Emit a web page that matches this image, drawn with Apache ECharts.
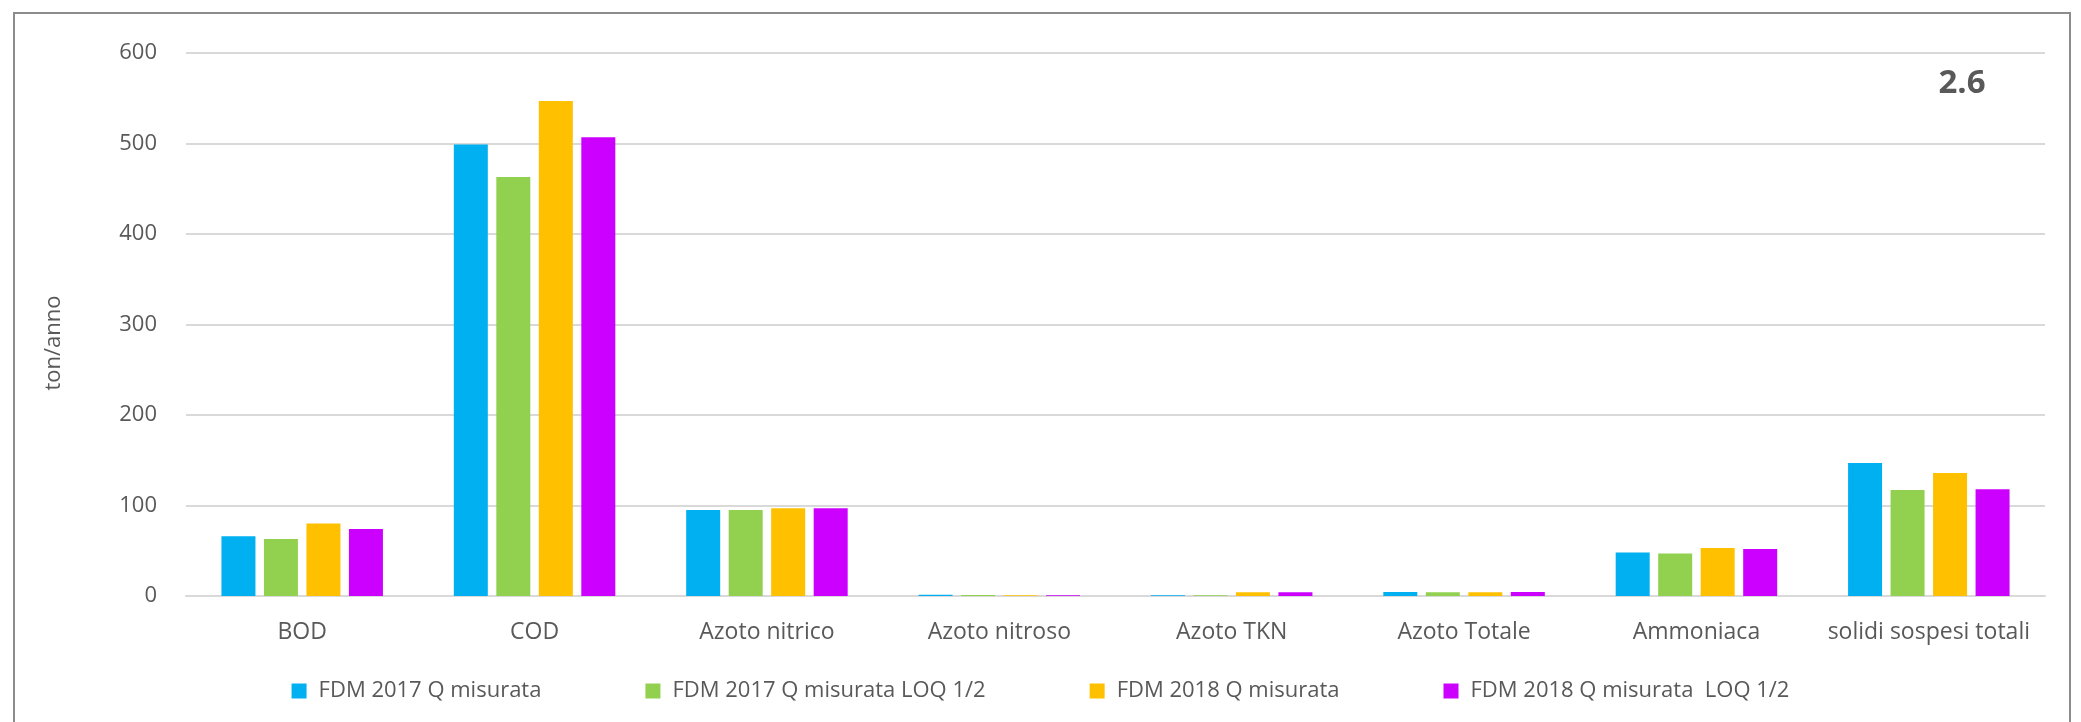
<!DOCTYPE html>
<html>
<head>
<meta charset="utf-8">
<script src="https://cdn.jsdelivr.net/npm/echarts@6/dist/echarts.min.js"></script>
<style>
  html, body { margin: 0; padding: 0; background: #fff; }
  #chart { width: 2081px; height: 722px; }
</style>
</head>
<body>
<div id="chart"></div>
<script>
// categorie
var categories = ['BOD', 'COD', 'Azoto nitrico', 'Azoto nitroso', 'Azoto TKN', 'Azoto Totale', 'Ammoniaca', 'solidi sospesi totali'];
var seriesNames = ['FDM 2017 Q misurata', 'FDM 2017 Q misurata LOQ 1/2', 'FDM 2018 Q misurata', 'FDM 2018 Q misurata  LOQ 1/2'];
var colors = ['#00B0F0', '#92D050', '#FFC000', '#CC00FF'];

// valori (ton/anno)
var fdm2017 = [66, 499, 95, 1.5, 0.7, 4.5, 48, 147];
var fdm2017Loq = [63, 463, 95, 1, 0.7, 4.2, 47, 117];
var fdm2018 = [80, 547, 97, 0.7, 4.2, 4.2, 53, 136];
var fdm2018Loq = [74, 507, 97, 0.7, 4.2, 4.5, 52, 118];
var yTicks = [0, 100, 200, 300, 400, 500, 600];

var textColor = '#595959';
var font = '"Open Sans", "Noto Sans", sans-serif';

var allData = [fdm2017, fdm2017Loq, fdm2018, fdm2018Loq];
var series = [];
for (var i = 0; i < seriesNames.length; i++) {
  series.push({
    name: seriesNames[i],
    type: 'bar',
    barWidth: 34,
    barGap: '25%',
    itemStyle: { color: colors[i] },
    data: allData[i]
  });
}

var chart = echarts.init(document.getElementById('chart'));
chart.setOption({
  animation: false,
  textStyle: { fontFamily: font },
  grid: { left: 186, right: 36, top: 53, bottom: 126, containLabel: false },
  legend: {
    data: seriesNames,
    left: 'center',
    top: 675,
    itemWidth: 15,
    itemHeight: 15,
    itemGap: 104,
    icon: 'rect',
    textStyle: { color: textColor, fontSize: 22, fontFamily: font, padding: [0, 0, 0, 7] }
  },
  xAxis: {
    type: 'category',
    data: categories,
    axisTick: { show: false },
    axisLine: { lineStyle: { color: '#D9D9D9', width: 2 } },
    axisLabel: { color: textColor, fontSize: 23, margin: 25, interval: 0 }
  },
  yAxis: {
    type: 'value',
    min: 0,
    max: yTicks[yTicks.length - 1],
    interval: 100,
    axisLine: { show: false },
    axisTick: { show: false },
    splitLine: { lineStyle: { color: '#D9D9D9', width: 2 } },
    axisLabel: { color: textColor, fontSize: 22, margin: 29 }
  },
  graphic: [
    {
      type: 'rect',
      shape: { x: 14, y: 13, width: 2056, height: 720 },
      style: { fill: 'none', stroke: '#8C8C8C', lineWidth: 2 },
      silent: true
    },
    {
      type: 'text',
      x: 54, y: 343,
      rotation: Math.PI / 2,
      style: { text: 'ton/anno', fill: textColor, font: '22px ' + font, align: 'center', verticalAlign: 'middle' }
    },
    {
      type: 'text',
      x: 1962, y: 84,
      style: { text: '2.6', fill: textColor, font: 'bold 33px ' + font, align: 'center', verticalAlign: 'middle' }
    }
  ],
  series: series
});
</script>
</body>
</html>
